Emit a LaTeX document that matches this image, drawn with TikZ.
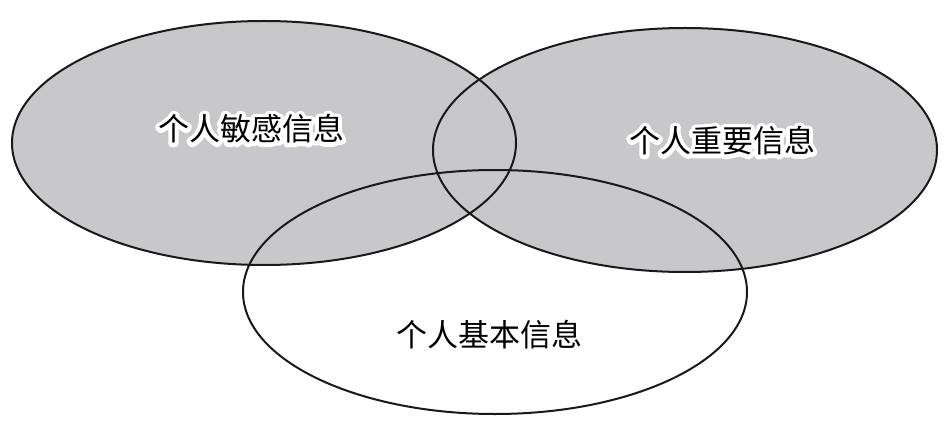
\documentclass[tikz,border=0pt]{standalone}
\usepackage{fontspec}
\newfontfamily\cjk{Noto Sans CJK SC}
\definecolor{venngray}{RGB}{200,200,202}
\tikzset{
  setfill/.style={fill=venngray},
  setline/.style={draw=black!90, line width=2pt},
  lbl/.style={font=\cjk\fontsize{31}{31}\selectfont, inner sep=0pt},
}
\newcommand{\halotext}[1]{%
  \rlap{\special{pdf:literal direct 1 Tr 1 1 1 RG 8 w 1 j}#1\special{pdf:literal direct 0 Tr 0 0 0 RG 1 w 0 j}}#1}
\begin{document}
\begin{tikzpicture}[x=1pt,y=-1pt]
\useasboundingbox[fill=white] (0,0) rectangle (945,425);
% fills
\fill[white] (495,292) ellipse [x radius=252, y radius=122];
\fill[setfill] (264,143) ellipse [x radius=252, y radius=122];
\fill[setfill] (685,150) ellipse [x radius=252, y radius=122];
% outlines
\draw[setline] (264,143) ellipse [x radius=252, y radius=122];
\draw[setline] (685,150) ellipse [x radius=252, y radius=122];
\draw[setline] (495,292) ellipse [x radius=252, y radius=122];
% labels
\node[lbl] (sens) at (251,129) {\halotext{个人敏感信息}};
\node[lbl] (imp) at (722,141) {\halotext{个人重要信息}};
\node[lbl] (basic) at (489,335) {个人基本信息};
\end{tikzpicture}
\end{document}
